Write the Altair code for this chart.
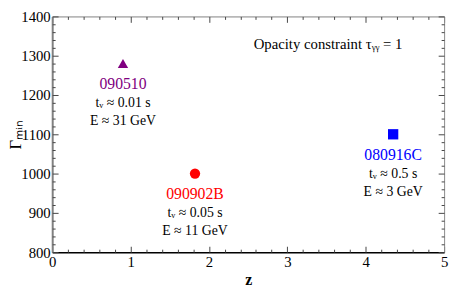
import altair as alt
import pandas as pd

# ---- data ----
grb = ["090510", "090902B", "080916C"]
z = [0.903, 1.822, 4.35]
gamma_min = [1280, 1000, 1100]
tv_text = ["tᵥ ≈ 0.01 s", "tᵥ ≈ 0.05 s", "tᵥ ≈ 0.5 s"]
e_text = ["E ≈ 31 GeV", "E ≈ 11 GeV", "E ≈ 3 GeV"]
shapes = ["triangle-up", "circle", "square"]
colors = ["#800080", "#ff0000", "#0000ff"]

x_major = [0, 1, 2, 3, 4, 5]
x_minor = [0.2, 0.4, 0.6, 0.8, 1.2, 1.4, 1.6, 1.8, 2.2, 2.4, 2.6, 2.8,
           3.2, 3.4, 3.6, 3.8, 4.2, 4.4, 4.6, 4.8]
y_major = [800, 900, 1000, 1100, 1200, 1300, 1400]
y_minor = [820, 840, 860, 880, 920, 940, 960, 980, 1020, 1040, 1060, 1080,
           1120, 1140, 1160, 1180, 1220, 1240, 1260, 1280, 1320, 1340, 1360, 1380]

note_text = ["Opacity constraint τᵧᵧ = 1"]
note_z = [3.52]
note_g = [1330]

df = pd.DataFrame({"grb": grb, "z": z, "g": gamma_min, "tv": tv_text, "e": e_text})
note_df = pd.DataFrame({"t": note_text, "z": note_z, "g": note_g})

FONT = "Liberation Serif"

xscale = alt.Scale(domain=[0, 5], nice=False, zero=False)
yscale = alt.Scale(domain=[800, 1400], nice=False, zero=False)


def tick_axis(orient, values, size, color):
    return alt.Axis(orient=orient, values=values, labels=False, title=None,
                    domain=False, grid=False, ticks=True, tickSize=size,
                    offset=-size, tickColor=color, tickWidth=1)


def frame_axis(orient, color, width):
    return alt.Axis(orient=orient, values=x_major if orient in ("top", "bottom") else y_major,
                    labels=False, title=None, ticks=False, grid=False,
                    domain=True, domainColor=color, domainWidth=width)


x_bottom = alt.Axis(values=x_major, format="d", orient="bottom", ticks=False,
                    labelFont=FONT, labelFontSize=15, labelColor="black",
                    labelOverlap=False, labelFlush=False, labelPadding=3, grid=False,
                    domainColor="black", domainWidth=1.5,
                    title="z", titleFont=FONT, titleFontSize=16,
                    titleFontWeight="bold", titleColor="black", titlePadding=2)
y_left = alt.Axis(values=y_major, format="d", orient="left", ticks=False,
                  labelFont=FONT, labelFontSize=15, labelColor="black",
                  labelOverlap=False, labelFlush=False, labelPadding=2, grid=False,
                  domainColor="#808080", domainWidth=2,
                  title="Γₘᵢₙ", titleFont=FONT, titleFontSize=17,
                  titleFontWeight="normal", titleColor="black",
                  titleX=-37, titleBaseline="middle")

color = alt.Color("grb:N", scale=alt.Scale(domain=grb, range=colors), legend=None)
shape = alt.Shape("grb:N", scale=alt.Scale(domain=grb, range=shapes), legend=None)

xn = alt.X("z:Q", scale=xscale, axis=None)
yn = alt.Y("g:Q", scale=yscale, axis=None)

base = alt.Chart(df)


def inv(xaxis, yaxis):
    return base.mark_point(opacity=0).encode(
        x=alt.X("z:Q", scale=xscale, axis=xaxis),
        y=alt.Y("g:Q", scale=yscale, axis=yaxis),
    )


points = base.mark_point(filled=True, size=110, opacity=1).encode(
    x=alt.X("z:Q", scale=xscale, axis=x_bottom),
    y=alt.Y("g:Q", scale=yscale, axis=y_left),
    color=color, shape=shape,
)

TICK = "#444444"
layers = [
    points,
    inv(tick_axis("bottom", x_major, 6, TICK), tick_axis("left", y_major, 6, TICK)),
    inv(tick_axis("bottom", x_minor, 3, TICK), tick_axis("left", y_minor, 3, TICK)),
    inv(frame_axis("top", "#909090", 1), frame_axis("right", "#909090", 1)),
    inv(tick_axis("top", x_major, 6, TICK), tick_axis("right", y_major, 6, TICK)),
    inv(tick_axis("top", x_minor, 3, TICK), tick_axis("right", y_minor, 3, TICK)),
]

names = base.mark_text(font=FONT, fontSize=16, dy=21).encode(
    x=xn, y=yn, text="grb:N", color=color)
tv = base.mark_text(font=FONT, fontSize=14, dy=40, color="black").encode(
    x=xn, y=yn, text="tv:N")
en = base.mark_text(font=FONT, fontSize=14, dy=59, color="black").encode(
    x=xn, y=yn, text="e:N")
note = alt.Chart(note_df).mark_text(font=FONT, fontSize=15, color="black").encode(
    x=xn, y=yn, text="t:N")

chart = alt.layer(*layers, names, tv, en, note).resolve_axis(
    x="independent", y="independent"
).properties(
    width=399, height=240,
    autosize=alt.AutoSizeParams(type="none"),
    padding={"left": 45, "top": 6, "right": 5, "bottom": 39},
).configure_view(stroke=None).configure(background="white")

chart.save("out.html", embed_options={"renderer": "svg", "actions": False})
